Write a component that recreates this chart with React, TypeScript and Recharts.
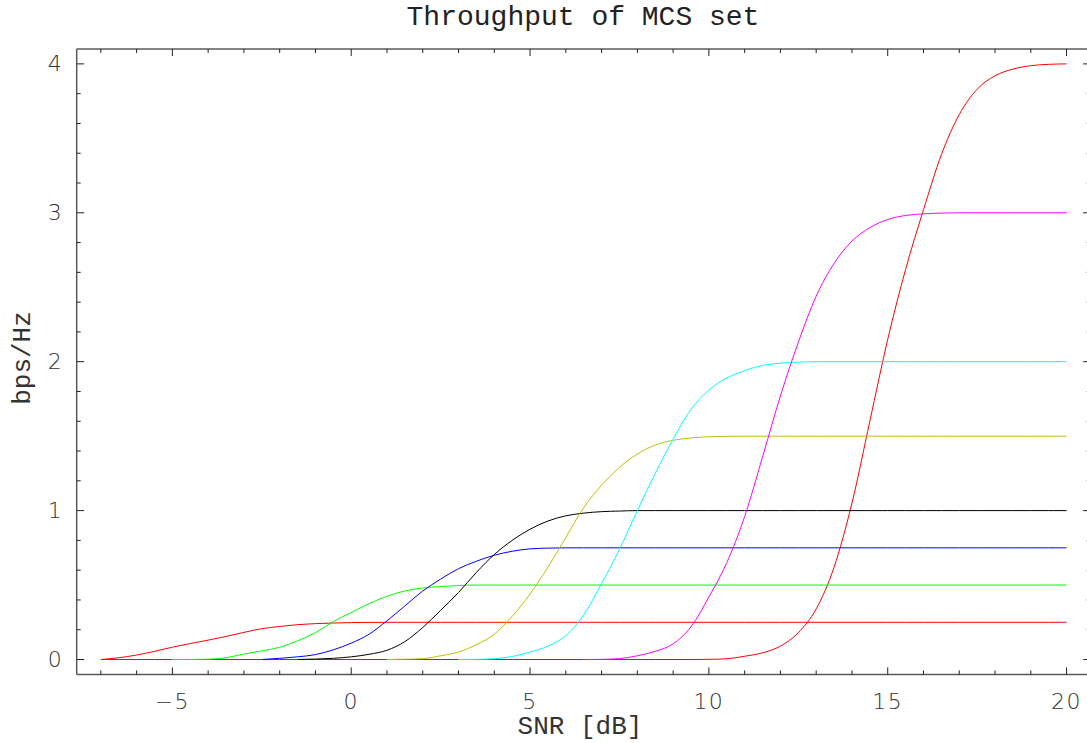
import React from "react";
import { LineChart, Line, XAxis, YAxis } from "recharts";

const snr = [
  -7, -6.5, -6, -5.5, -5, -4.5, -4, -3.5, -3, -2.5,
  -2, -1.5, -1, -0.5, 0, 0.5, 1, 1.5, 2, 2.5,
  3, 3.5, 4, 4.5, 5, 5.5, 6, 6.5, 7, 7.5,
  8, 8.5, 9, 9.5, 10, 10.5, 11, 11.5, 12, 12.5,
  13, 13.5, 14, 14.5, 15, 15.5, 16, 16.5, 17, 17.5,
  18, 18.5, 19, 19.5, 20,
];

const N = null;

const mcs1 = [
  0, 0.012, 0.03, 0.055, 0.083, 0.107, 0.13, 0.155, 0.182, 0.207,
  0.222, 0.234, 0.241, 0.245, 0.248, 0.249, 0.25, 0.25, 0.25, 0.25,
  0.25, 0.25, 0.25, 0.25, 0.25, 0.25, 0.25, 0.25, 0.25, 0.25,
  0.25, 0.25, 0.25, 0.25, 0.25, 0.25, 0.25, 0.25, 0.25, 0.25,
  0.25, 0.25, 0.25, 0.25, 0.25, 0.25, 0.25, 0.25, 0.25, 0.25,
  0.25, 0.25, 0.25, 0.25, 0.25,
];

const mcs2 = [
  N, N, N, N, 0, 0, 0.002, 0.012, 0.037, 0.058,
  0.082, 0.125, 0.18, 0.255, 0.315, 0.375, 0.425, 0.46, 0.48, 0.49,
  0.497, 0.5, 0.5, 0.5, 0.5, 0.5, 0.5, 0.5, 0.5, 0.5,
  0.5, 0.5, 0.5, 0.5, 0.5, 0.5, 0.5, 0.5, 0.5, 0.5,
  0.5, 0.5, 0.5, 0.5, 0.5, 0.5, 0.5, 0.5, 0.5, 0.5,
  0.5, 0.5, 0.5, 0.5, 0.5,
];

const mcs3 = [
  N, N, N, N, N, N, N, N, N, 0,
  0.008, 0.018, 0.033, 0.065, 0.11, 0.17, 0.26, 0.36, 0.46, 0.54,
  0.61, 0.66, 0.7, 0.727, 0.743, 0.748, 0.75, 0.75, 0.75, 0.75,
  0.75, 0.75, 0.75, 0.75, 0.75, 0.75, 0.75, 0.75, 0.75, 0.75,
  0.75, 0.75, 0.75, 0.75, 0.75, 0.75, 0.75, 0.75, 0.75, 0.75,
  0.75, 0.75, 0.75, 0.75, 0.75,
];

const mcs4 = [
  N, N, N, N, N, N, N, N, N, N,
  N, 0, 0.003, 0.008, 0.018, 0.035, 0.062, 0.12, 0.215, 0.33,
  0.45, 0.585, 0.705, 0.8, 0.875, 0.93, 0.965, 0.983, 0.993, 0.997,
  1, 1, 1, 1, 1, 1, 1, 1, 1, 1,
  1, 1, 1, 1, 1, 1, 1, 1, 1, 1,
  1, 1, 1, 1, 1,
];

const mcs5 = [
  N, N, N, N, N, N, N, N, N, N,
  N, N, N, N, N, N, 0, 0.002, 0.006, 0.025,
  0.05, 0.1, 0.17, 0.29, 0.44, 0.62, 0.82, 1.02, 1.17, 1.29,
  1.38, 1.44, 1.472, 1.488, 1.496, 1.499, 1.5, 1.5, 1.5, 1.5,
  1.5, 1.5, 1.5, 1.5, 1.5, 1.5, 1.5, 1.5, 1.5, 1.5,
  1.5, 1.5, 1.5, 1.5, 1.5,
];

const mcs6 = [
  N, N, N, N, N, N, N, N, N, N,
  N, N, N, N, N, N, N, N, N, N,
  0, 0.001, 0.005, 0.02, 0.05, 0.09, 0.16, 0.3, 0.51, 0.74,
  1.0, 1.25, 1.48, 1.68, 1.81, 1.89, 1.94, 1.975, 1.99, 1.997,
  2, 2, 2, 2, 2, 2, 2, 2, 2, 2,
  2, 2, 2, 2, 2,
];

const mcs7 = [
  N, N, N, N, N, N, N, N, N, N,
  N, N, N, N, N, N, N, N, N, N,
  N, N, N, N, N, N, N, 0, 0.001, 0.006,
  0.025, 0.055, 0.105, 0.22, 0.42, 0.65, 0.96, 1.36, 1.77, 2.13,
  2.44, 2.66, 2.81, 2.9, 2.955, 2.982, 2.993, 2.998, 3, 3,
  3, 3, 3, 3, 3,
];

const mcs8 = [
  0, 0, 0, 0, 0, 0, 0, 0, 0, 0,
  0, 0, 0, 0, 0, 0, 0, 0, 0, 0,
  0, 0, 0, 0, 0, 0, 0, 0, 0, 0,
  0, 0, 0, 0, 0.001, 0.005, 0.022, 0.045, 0.09, 0.18,
  0.34, 0.62, 1.05, 1.6, 2.15, 2.62, 3.02, 3.39, 3.66, 3.83,
  3.92, 3.965, 3.988, 3.997, 4,
];

const xTicks = [
  -7, -6, -5, -4, -3, -2, -1, 0, 1, 2, 3, 4, 5, 6, 7, 8, 9, 10,
  11, 12, 13, 14, 15, 16, 17, 18, 19, 20,
];
const yTicks = [
  0, 0.2, 0.4, 0.6, 0.8, 1, 1.2, 1.4, 1.6, 1.8, 2, 2.2, 2.4, 2.6, 2.8,
  3, 3.2, 3.4, 3.6, 3.8, 4,
];

const title = "Throughput of MCS set";
const xLabel = "SNR [dB]";
const yLabel = "bps/Hz";

const data = snr.map((x, i) => ({
  x,
  m1: mcs1[i],
  m2: mcs2[i],
  m3: mcs3[i],
  m4: mcs4[i],
  m5: mcs5[i],
  m6: mcs6[i],
  m7: mcs7[i],
  m8: mcs8[i],
}));

const X_DOMAIN: [number, number] = [-7.675, 20.675];
const Y_DOMAIN: [number, number] = [-0.1, 4.1];

const TICK_COLOR = "#222";
const LABEL_FONT = "'DejaVu Sans', Verdana, sans-serif";
const MONO_FONT = "'Courier New', 'Liberation Mono', monospace";

const isMajorX = (v: number) => Math.abs(v % 5) < 1e-9;
const isMajorY = (v: number) => Math.abs(v - Math.round(v)) < 1e-9;

const fmt = (v: number) => (v < 0 ? `\u2212${-v}` : `${v}`);

const BottomTick = (props: any) => {
  const { x, y, payload } = props;
  const v = payload.value as number;
  const major = isMajorX(v);
  return (
    <g>
      <line x1={x} x2={x} y1={y} y2={y - (major ? 7 : 4)} stroke={TICK_COLOR} strokeWidth={1} />
      {major && (
        <text
          x={x}
          y={y + 35}
          textAnchor="middle"
          fontFamily={LABEL_FONT}
          fontSize={22}
          fontWeight={300}
          letterSpacing={1.5}
          fill="#333"
        >
          {fmt(v)}
        </text>
      )}
    </g>
  );
};

const TopTick = (props: any) => {
  const { x, y, payload } = props;
  const v = payload.value as number;
  const major = isMajorX(v);
  return <line x1={x} x2={x} y1={y} y2={y + (major ? 7 : 4)} stroke={TICK_COLOR} strokeWidth={1} />;
};

const LeftTick = (props: any) => {
  const { x, y, payload } = props;
  const v = payload.value as number;
  const major = isMajorY(v);
  return (
    <g>
      <line x1={x} x2={x + (major ? 7.5 : 4)} y1={y} y2={y} stroke={TICK_COLOR} strokeWidth={1} />
      {major && (
        <text
          x={x - 15}
          y={y + 7.5}
          textAnchor="end"
          fontFamily={LABEL_FONT}
          fontSize={22}
          fontWeight={300}
          fill="#333"
        >
          {fmt(Math.round(v))}
        </text>
      )}
    </g>
  );
};

const RightTick = (props: any) => {
  const { x, y, payload } = props;
  const v = payload.value as number;
  const major = isMajorY(v);
  return <line x1={x} x2={x - (major ? 7.5 : 4)} y1={y} y2={y} stroke={TICK_COLOR} strokeWidth={1} />;
};

const series = [
  { key: "m8", color: "#ff0000" },
  { key: "m1", color: "#ff0000" },
  { key: "m2", color: "#00ff00" },
  { key: "m3", color: "#0000ff" },
  { key: "m4", color: "#000000" },
  { key: "m5", color: "#bfbf00" },
  { key: "m6", color: "#00ffff" },
  { key: "m7", color: "#ff00ff" },
];

const FRAME = { stroke: "#5a5a5a", strokeWidth: 1.5 };

export default function App() {
  return (
    <div
      style={{
        position: "fixed",
        left: 0,
        top: 0,
        width: 1087,
        height: 743,
        overflow: "hidden",
        background: "#fff",
      }}
    >
      <LineChart
        width={1100}
        height={743}
        data={data}
        margin={{ top: 48, right: 8.3, bottom: 67.6, left: 75.7 }}
      >
        <XAxis
          xAxisId="b"
          dataKey="x"
          type="number"
          orientation="bottom"
          domain={X_DOMAIN}
          allowDataOverflow
          ticks={xTicks}
          interval={0}
          height={1}
          tickSize={0}
          tickMargin={0}
          tickLine={false}
          axisLine={FRAME}
          tick={<BottomTick />}
        />
        <XAxis
          xAxisId="t"
          dataKey="x"
          type="number"
          orientation="top"
          domain={X_DOMAIN}
          allowDataOverflow
          ticks={xTicks}
          interval={0}
          height={1}
          tickSize={0}
          tickMargin={0}
          tickLine={false}
          axisLine={FRAME}
          tick={<TopTick />}
        />
        <YAxis
          yAxisId="l"
          type="number"
          orientation="left"
          domain={Y_DOMAIN}
          allowDataOverflow
          ticks={yTicks}
          interval={0}
          width={1}
          tickSize={0}
          tickMargin={0}
          tickLine={false}
          axisLine={FRAME}
          tick={<LeftTick />}
        />
        <YAxis
          yAxisId="r"
          type="number"
          orientation="right"
          domain={Y_DOMAIN}
          allowDataOverflow
          ticks={yTicks}
          interval={0}
          width={1}
          tickSize={0}
          tickMargin={0}
          tickLine={false}
          axisLine={FRAME}
          tick={<RightTick />}
        />
        {series.map((s) => (
          <Line
            key={s.key}
            xAxisId="b"
            yAxisId="l"
            dataKey={s.key}
            type="monotone"
            stroke={s.color}
            strokeWidth={1}
            dot={false}
            activeDot={false}
            isAnimationActive={false}
          />
        ))}
        <text
          x={583}
          y={25}
          textAnchor="middle"
          fontFamily={MONO_FONT}
          fontSize={28}
          fill="#222"
        >
          {title}
        </text>
        <text
          x={580}
          y={734}
          textAnchor="middle"
          fontFamily={MONO_FONT}
          fontSize={26}
          fill="#333"
        >
          {xLabel}
        </text>
        <text
          x={30}
          y={358}
          textAnchor="middle"
          fontFamily={MONO_FONT}
          fontSize={26}
          fill="#333"
          transform="rotate(-90, 30, 358)"
        >
          {yLabel}
        </text>
      </LineChart>
    </div>
  );
}
